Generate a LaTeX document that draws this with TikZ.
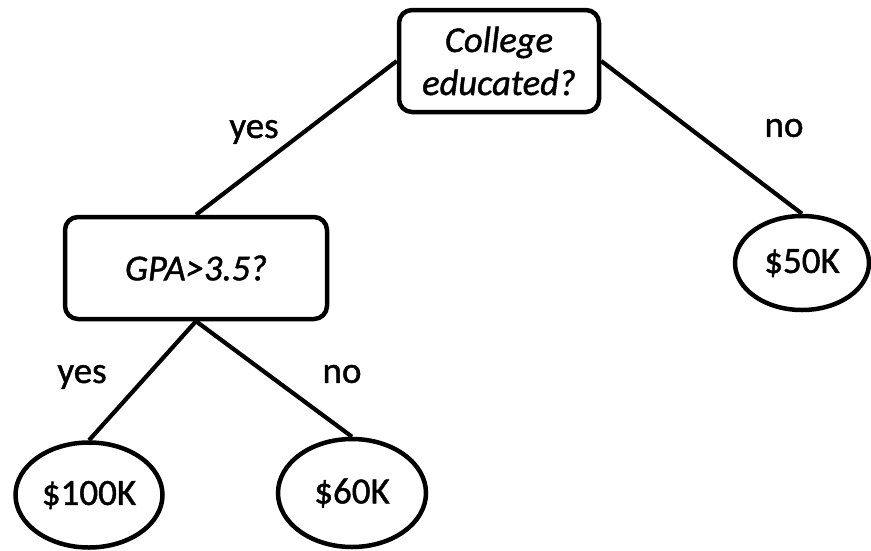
\documentclass[tikz,border=0pt]{standalone}
\usepackage{fontspec}
\setmainfont{Carlito}[FakeBold=1.2]
\usetikzlibrary{shapes.geometric}
\begin{document}
\begin{tikzpicture}[x=1pt,y=-1pt,
  every node/.style={font=\fontsize{37}{43}\selectfont},
  question/.style={draw,line width=4.5pt,rounded corners=13pt,align=center,inner sep=0pt,font=\fontsize{36.5}{43}\selectfont\itshape},
  leaf/.style={draw,ellipse,line width=4.5pt,inner sep=0pt},
  branch/.style={line width=4.2pt},
  edgelabel/.style={inner sep=0pt}]
\useasboundingbox (0,0) rectangle (871,550);
% decision nodes
\node[question,minimum width=200pt,minimum height=102pt] (col) at (499,61) {College\\educated?};
\node[question,minimum width=262pt,minimum height=102pt] (gpa) at (196,268) {GPA>3.5?};
% leaves
\node[leaf,minimum width=147pt,minimum height=105pt] (l100) at (89,495) {\$100K};
\node[leaf,minimum width=148pt,minimum height=108pt] (l60) at (352,493) {\$60K};
\node[leaf,minimum width=134pt,minimum height=94pt] (l50) at (802,263) {\$50K};
% branches
\draw[branch] (col.west) -- (gpa.north);
\draw[branch] (col.east) -- (l50.north);
\draw[branch] (gpa.south) -- (l100.north);
\draw[branch] (gpa.south) -- (l60.north);
% branch labels
\node[edgelabel] (y1) at (254,132) {yes};
\node[edgelabel] (n1) at (784,128) {no};
\node[edgelabel] (y2) at (82,377) {yes};
\node[edgelabel] (n2) at (342,374) {no};
\end{tikzpicture}
\end{document}
